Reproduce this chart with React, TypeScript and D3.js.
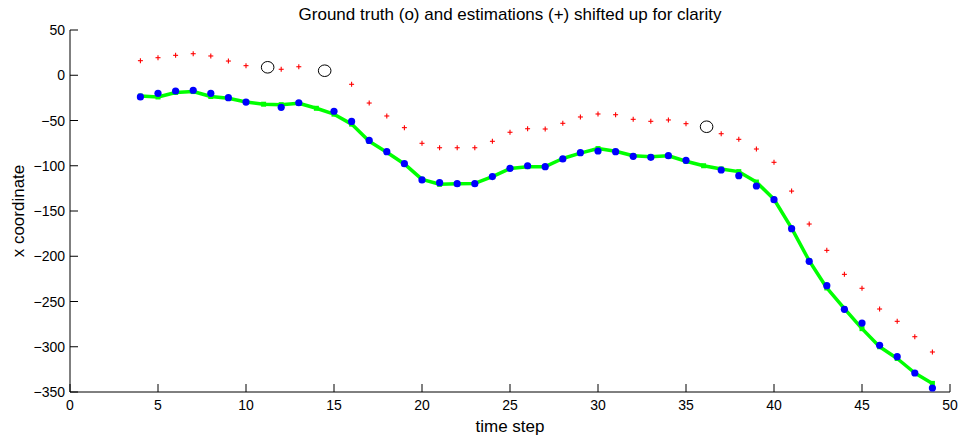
import React from "react";
import * as d3 from "d3";

const timeSteps = [4,5,6,7,8,9,10,11,12,13,14,15,16,17,18,19,20,21,22,23,24,25,26,27,28,29,30,31,32,33,34,35,36,37,38,39,40,41,42,43,44,45,46,47,48,49];

const estimateLine = [-23,-24,-19,-18,-23.5,-25.5,-29.5,-32,-32.5,-31,-36.5,-43,-54,-73,-85,-98,-115,-120.5,-120,-119.5,-112,-103,-101,-101,-92,-86,-81,-84,-89,-90,-89,-95,-100,-103.5,-106.5,-118,-137,-169,-205,-235,-258,-280,-300,-313,-329,-340.5];

const groundTruth: (number | null)[] = [-24,-20,-17.4,-16.6,-20,-24.8,-29.6,null,-35.4,-30.4,null,-39.8,-51,-72,-84.5,-97.7,-115.7,-118.7,-119.8,-119.8,-112,-102.8,-100,-101,-92.5,-85.6,-83.7,-84.5,-89.6,-90.7,-88.9,-94,null,-104.7,-111,-122.4,-137.5,-169.5,-205.6,-232.5,-258.6,-273.8,-298.4,-311,-329,-345.6];

const shiftedEstimates: (number | null)[] = [16.1,19.4,22,23.8,21.3,15.7,10.6,null,6.6,9.4,null,null,-10,-30.7,-45,-57.9,-75.2,-80.1,-80.1,-80.1,-73,-63,-59.1,-59.4,-53.1,-46.1,-42.8,-43.6,-48.7,-50.9,-49.4,-53.5,null,-64.6,-70.8,-81.5,-96.2,-128,-164.4,-193.5,-220,-235.4,-258.3,-271.9,-288.9,-305.8];

const circleT = [11.23, 14.47, 36.17];
const circleV = [8.8, 5.0, -56.9];

const xTicks = [0,5,10,15,20,25,30,35,40,45,50];
const yTicks = [50,0,-50,-100,-150,-200,-250,-300,-350];

const W = 960, H = 439;
const L = 70, R = 950, T = 30, B = 392;
const FONT = "'Liberation Sans', Arial, sans-serif";

export default function App() {
  const x = d3.scaleLinear().domain([0, 50]).range([L, R]);
  const y = d3.scaleLinear().domain([-350, 50]).range([B, T]);
  const line = d3.line<number>().x((_, i) => x(timeSteps[i])).y((d) => y(d));
  const fmt = (v: number) => (v < 0 ? "\u2212" + Math.abs(v) : String(v));
  const tickLen = 8;

  return (
    <svg width={W} height={H} style={{ position: "absolute", left: 0, top: 0, background: "#fff" }} fontFamily={FONT}>
      <rect x={0} y={0} width={W} height={H} fill="#fff" />
      {/* axes */}
      <line x1={L} y1={T} x2={L} y2={B} stroke="#000" strokeWidth={1} />
      <line x1={L} y1={B} x2={R} y2={B} stroke="#000" strokeWidth={1} />
      {xTicks.map((t) => (
        <g key={"xt" + t}>
          <line x1={x(t)} x2={x(t)} y1={B} y2={B - tickLen} stroke="#000" strokeWidth={1} />
          <text x={x(t)} y={B + 18} textAnchor="middle" fontSize={14} fill="#000">{fmt(t)}</text>
        </g>
      ))}
      {yTicks.map((t) => (
        <g key={"yt" + t}>
          <line x1={L} x2={L + tickLen} y1={y(t)} y2={y(t)} stroke="#000" strokeWidth={1} />
          <text x={L - 5} y={y(t) + 5} textAnchor="end" fontSize={14} fill="#000">{fmt(t)}</text>
        </g>
      ))}
      {/* green estimate line with square markers */}
      <path d={line(estimateLine) || ""} fill="none" stroke="#00ff00" strokeWidth={3.5} strokeLinejoin="round" />
      {estimateLine.map((v, i) => (
        <rect key={"gs" + i} x={x(timeSteps[i]) - 2.5} y={y(v) - 2.5} width={5} height={5} fill="#00ff00" />
      ))}
      {/* ground truth blue dots */}
      {groundTruth.map((v, i) =>
        v === null ? null : (
          <circle key={"gt" + i} cx={x(timeSteps[i])} cy={y(v)} r={3.6} fill="#0000ff" />
        )
      )}
      {/* shifted estimates red plus */}
      {shiftedEstimates.map((v, i) =>
        v === null ? null : (
          <g key={"pl" + i} stroke="#ff0000" strokeWidth={1.1}>
            <line x1={x(timeSteps[i]) - 2.5} x2={x(timeSteps[i]) + 2.5} y1={y(v)} y2={y(v)} />
            <line x1={x(timeSteps[i])} x2={x(timeSteps[i])} y1={y(v) - 2.5} y2={y(v) + 2.5} />
          </g>
        )
      )}
      {/* open circles */}
      {circleT.map((t, i) => (
        <ellipse key={"oc" + i} cx={x(t)} cy={y(circleV[i])} rx={6.3} ry={5.8} fill="none" stroke="#000" strokeWidth={1} />
      ))}
      {/* labels */}
      <text x={(L + R) / 2} y={20} textAnchor="middle" fontSize={17} fill="#000">
        Ground truth (o) and estimations (+) shifted up for clarity
      </text>
      <text x={(L + R) / 2} y={432} textAnchor="middle" fontSize={17} fill="#000">time step</text>
      <text transform={`translate(24, ${(T + B) / 2}) rotate(-90)`} textAnchor="middle" fontSize={17} fill="#000">x coordinate</text>
    </svg>
  );
}
